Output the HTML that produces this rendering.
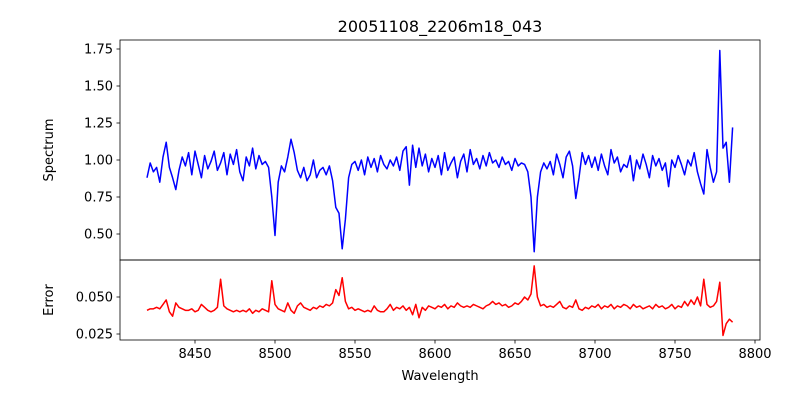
<!DOCTYPE html>
<html><head><meta charset="utf-8"><style>
body{margin:0;background:#fff;}
svg{display:block;font-family:"DejaVu Sans","Liberation Sans",sans-serif;}
</style></head><body>
<svg id="chart" width="800" height="400" viewBox="0 0 800 400" xmlns="http://www.w3.org/2000/svg">
<rect width="800" height="400" fill="#fff"/>
<text x="440" y="32" text-anchor="middle" font-size="16">20051108_2206m18_043</text>
<g id="topPanel"></g>
<g id="botPanel"></g>
<text transform="translate(53,150) rotate(-90)" text-anchor="middle" font-size="13">Spectrum</text>
<text transform="translate(53,300) rotate(-90)" text-anchor="middle" font-size="13">Error</text>
<text x="440" y="380" text-anchor="middle" font-size="13">Wavelength</text>
</svg>
<script>
const wlStart = 8420;
const wlStep = 2;
const spectrum = [
0.88,0.98,0.92,0.95,0.85,1.02,1.12,0.95,0.88,0.80,
0.93,1.02,0.96,1.05,0.90,1.06,0.97,0.88,1.03,0.94,
0.99,1.06,0.93,0.98,1.05,0.90,1.04,0.97,1.07,0.92,
0.86,1.02,0.96,1.08,0.94,1.03,0.97,0.99,0.95,0.75,
0.49,0.85,0.96,0.92,1.02,1.14,1.05,0.93,0.88,0.95,
0.86,0.90,1.00,0.88,0.93,0.95,0.90,0.96,0.86,0.68,
0.64,0.40,0.60,0.88,0.97,0.99,0.93,1.00,0.90,1.02,
0.95,1.01,0.92,1.03,0.97,0.94,1.00,0.96,1.02,0.93,
1.06,1.09,0.83,1.10,0.95,1.08,0.96,1.04,0.92,1.01,
0.95,1.03,0.90,1.05,0.93,0.98,1.02,0.88,0.99,1.04,
0.92,1.07,0.97,1.01,0.94,1.03,0.96,1.05,0.98,1.00,
0.95,1.02,0.97,0.99,0.93,1.01,0.96,0.98,0.97,0.92,
0.75,0.38,0.75,0.92,0.98,0.94,0.99,0.90,1.04,0.97,
0.88,1.02,1.06,0.96,0.74,0.88,1.05,0.97,1.03,0.95,
1.02,0.93,1.04,0.96,0.90,1.07,0.98,1.02,0.92,0.97,
0.95,1.03,0.86,1.00,0.94,1.04,0.97,0.88,1.03,0.96,
1.01,0.93,0.98,0.82,1.00,0.95,1.03,0.97,0.90,1.00,
0.96,1.05,0.92,0.84,0.77,1.07,0.95,0.85,0.92,1.74,
1.08,1.12,0.85,1.22];
const errors = [
0.041,0.042,0.042,0.043,0.042,0.045,0.048,0.040,0.037,0.046,
0.043,0.042,0.041,0.041,0.042,0.040,0.041,0.045,0.043,0.041,
0.040,0.041,0.043,0.062,0.044,0.042,0.041,0.040,0.041,0.040,
0.041,0.040,0.042,0.039,0.041,0.040,0.042,0.041,0.040,0.061,
0.045,0.042,0.041,0.040,0.046,0.041,0.039,0.044,0.046,0.043,
0.042,0.041,0.043,0.042,0.044,0.043,0.045,0.044,0.046,0.055,
0.051,0.063,0.047,0.042,0.043,0.041,0.042,0.041,0.040,0.041,
0.040,0.044,0.041,0.040,0.040,0.042,0.045,0.041,0.043,0.042,
0.044,0.041,0.043,0.038,0.045,0.036,0.043,0.041,0.044,0.043,
0.042,0.044,0.043,0.045,0.042,0.044,0.043,0.046,0.044,0.043,
0.044,0.043,0.045,0.044,0.043,0.042,0.044,0.045,0.047,0.045,
0.046,0.044,0.045,0.043,0.044,0.046,0.045,0.047,0.050,0.048,
0.052,0.071,0.050,0.044,0.045,0.043,0.044,0.043,0.045,0.047,
0.043,0.042,0.044,0.043,0.048,0.042,0.041,0.043,0.042,0.044,
0.043,0.045,0.042,0.044,0.043,0.045,0.042,0.044,0.043,0.045,
0.044,0.042,0.045,0.043,0.044,0.042,0.043,0.044,0.042,0.045,
0.043,0.044,0.042,0.043,0.045,0.042,0.044,0.043,0.047,0.044,
0.048,0.045,0.050,0.044,0.062,0.045,0.043,0.044,0.047,0.060,
0.024,0.032,0.035,0.033];
const xTicks = [8450,8500,8550,8600,8650,8700,8750,8800];
const topTicks = [0.50,0.75,1.00,1.25,1.50,1.75];
const topTickLabels = ["0.50","0.75","1.00","1.25","1.50","1.75"];
const botTicks = [0.025,0.050];
const botTickLabels = ["0.025","0.050"];

const NS = "http://www.w3.org/2000/svg";
const L = 120, R = 760;
const xs = w => 115 + (w - 8400) * 1.6;
const ysTop = v => 49 + (1.75 - v) * 148;
const ysBot = v => 297 + (0.05 - v) * 1480;
function mk(tag, attrs, parent){const e=document.createElementNS(NS,tag);for(const k in attrs)e.setAttribute(k,attrs[k]);parent.appendChild(e);return e;}
function line(parent, arr, ys, color, name){
  const d = arr.map((v,i)=>(i?'L':'M')+xs(wlStart+i*wlStep).toFixed(2)+','+ys(v).toFixed(2)).join('');
  const p = mk('path',{d:d,fill:'none',stroke:color,'stroke-width':1.5,'stroke-linejoin':'round'},parent);
  
  
}
function yAxis(parent, ticks, labels, ys, name){
  ticks.forEach((t,i)=>{
    const y = ys(t);
    const tk = mk('line',{x1:L-3.5,x2:L,y1:y,y2:y,stroke:'#000','stroke-width':0.8},parent);
    
    
    const tx = mk('text',{x:L-7,y:y+4.5,'text-anchor':'end','font-size':13},parent);
    tx.textContent = labels[i];
    
    
  });
}
const topG = document.getElementById('topPanel'), botG = document.getElementById('botPanel');
line(topG, spectrum, ysTop, '#0000ff', 'spectrum-line');
line(botG, errors, ysBot, '#ff0000', 'error-line');
yAxis(topG, topTicks, topTickLabels, ysTop, 'spectrum-y');
yAxis(botG, botTicks, botTickLabels, ysBot, 'error-y');
const f1 = mk('rect',{x:L,y:40,width:R-L,height:220,fill:'none',stroke:'#000','stroke-width':0.8},topG);


const f2 = mk('rect',{x:L,y:260,width:R-L,height:80,fill:'none',stroke:'#000','stroke-width':0.8},botG);


xTicks.forEach(t=>{
  const x = xs(t);
  const tk = mk('line',{x1:x,x2:x,y1:340,y2:343.5,stroke:'#000','stroke-width':0.8},botG);
  
  
  const tx = mk('text',{x:x,y:358,'text-anchor':'middle','font-size':13},botG);
  tx.textContent = t;
  
  
});
</script>
</body></html>
